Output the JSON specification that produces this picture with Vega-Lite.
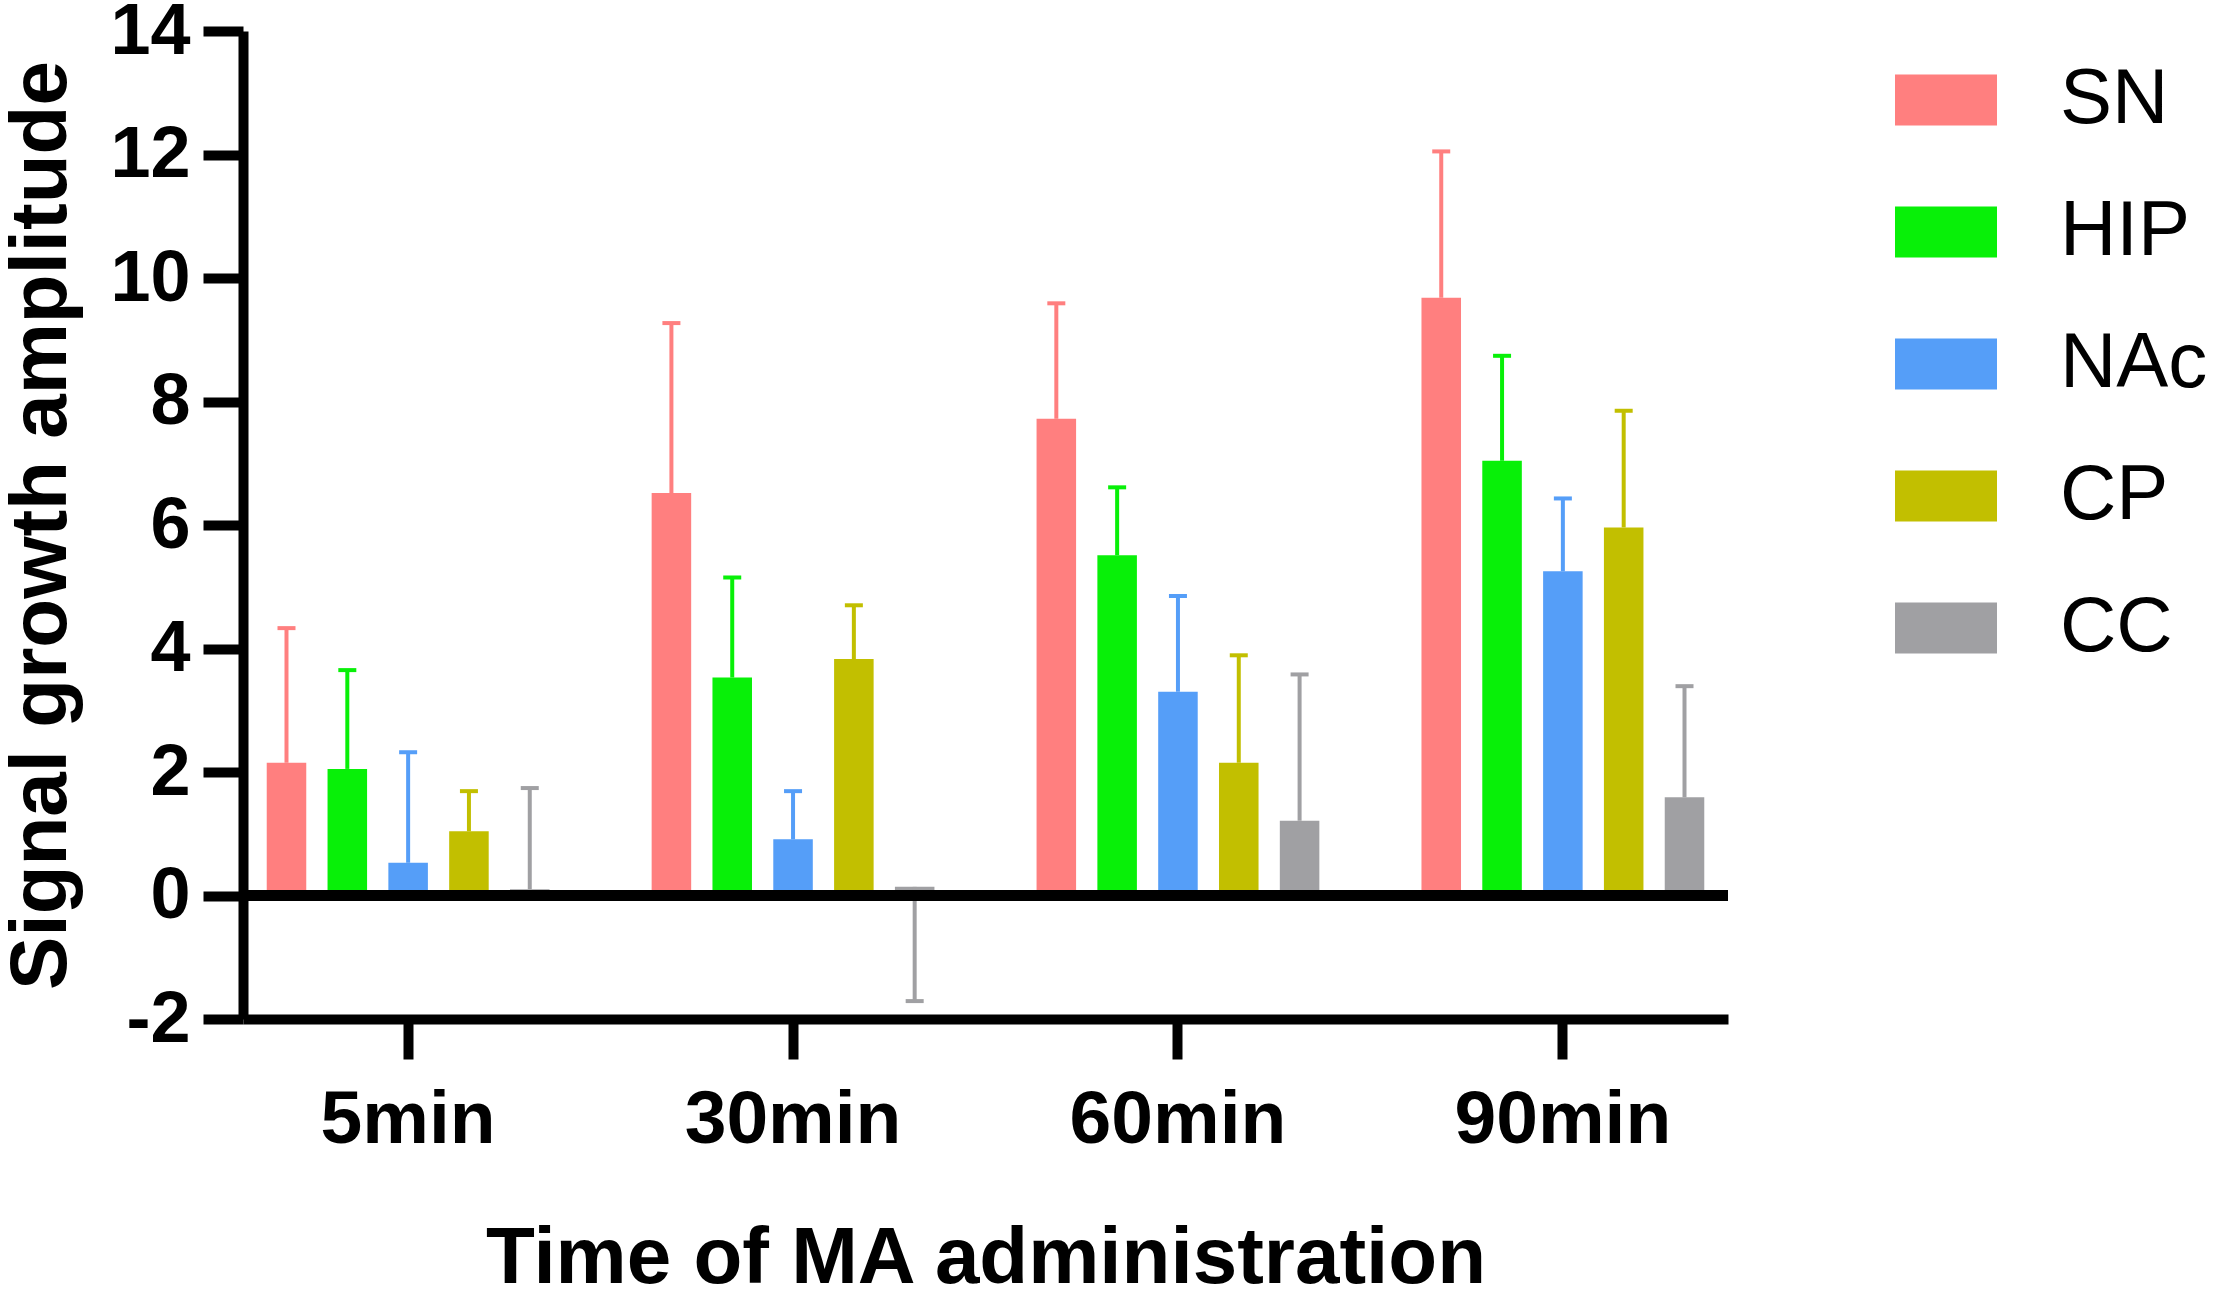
{
  "$schema": "https://vega.github.io/schema/vega-lite/v6.json",
  "width": 1485,
  "height": 988,
  "autosize": "none",
  "padding": {"left": 243, "top": 31, "right": 489, "bottom": 280},
  "background": "white",
  "config": {
    "view": {"stroke": null},
    "font": "Liberation Sans",
    "axis": {
      "grid": false,
      "domainColor": "black",
      "domainWidth": 10,
      "tickColor": "black",
      "tickWidth": 10,
      "tickSize": 40,
      "labelFont": "Liberation Sans",
      "labelFontWeight": "bold",
      "labelColor": "black",
      "labelLimit": 0,
      "titleFont": "Liberation Sans",
      "titleFontWeight": "bold",
      "titleColor": "black",
      "titleFontSize": 80
    }
  },
  "data": {
    "values": [
      {"time": "5min", "region": "SN", "mean": 2.15, "end": 4.33},
      {"time": "5min", "region": "HIP", "mean": 2.05, "end": 3.65},
      {"time": "5min", "region": "NAc", "mean": 0.53, "end": 2.32},
      {"time": "5min", "region": "CP", "mean": 1.04, "end": 1.69},
      {"time": "5min", "region": "CC", "mean": 0.1, "end": 1.74},
      {"time": "30min", "region": "SN", "mean": 6.52, "end": 9.27},
      {"time": "30min", "region": "HIP", "mean": 3.53, "end": 5.15},
      {"time": "30min", "region": "NAc", "mean": 0.91, "end": 1.69},
      {"time": "30min", "region": "CP", "mean": 3.83, "end": 4.7},
      {"time": "30min", "region": "CC", "mean": 0.14, "end": -1.71},
      {"time": "60min", "region": "SN", "mean": 7.72, "end": 9.59},
      {"time": "60min", "region": "HIP", "mean": 5.51, "end": 6.61},
      {"time": "60min", "region": "NAc", "mean": 3.3, "end": 4.85},
      {"time": "60min", "region": "CP", "mean": 2.15, "end": 3.89},
      {"time": "60min", "region": "CC", "mean": 1.21, "end": 3.58},
      {"time": "90min", "region": "SN", "mean": 9.68, "end": 12.05},
      {"time": "90min", "region": "HIP", "mean": 7.04, "end": 8.74},
      {"time": "90min", "region": "NAc", "mean": 5.25, "end": 6.43},
      {"time": "90min", "region": "CP", "mean": 5.96, "end": 7.85},
      {"time": "90min", "region": "CC", "mean": 1.59, "end": 3.39}
    ]
  },
  "encoding": {
    "x": {
      "field": "time",
      "type": "nominal",
      "sort": ["5min", "30min", "60min", "90min"],
      "scale": {"paddingInner": 0.21, "paddingOuter": 0.034},
      "axis": {
        "title": "Time of MA administration",
        "labelAngle": 0,
        "labelFontSize": 75,
        "labelPadding": 24,
        "titlePadding": 62
      }
    },
    "xOffset": {
      "field": "region",
      "type": "nominal",
      "sort": ["SN", "HIP", "NAc", "CP", "CC"],
      "scale": {"paddingInner": 0.35, "paddingOuter": 0.175}
    },
    "color": {
      "field": "region",
      "type": "nominal",
      "sort": ["SN", "HIP", "NAc", "CP", "CC"],
      "scale": {
        "domain": ["SN", "HIP", "NAc", "CP", "CC"],
        "range": ["#FF7F7F", "#08F008", "#559EF8", "#C2BF00", "#A0A0A3"]
      },
      "legend": {
        "title": null,
        "orient": "none",
        "legendX": 1652,
        "legendY": 18,
        "symbolType": "M-1,-0.5H1V0.5H-1Z",
        "symbolSize": 10404,
        "symbolStrokeWidth": 0,
        "symbolOpacity": 1,
        "labelFont": "Liberation Sans",
        "labelFontSize": 78,
        "labelColor": "black",
        "labelOffset": 63,
        "rowPadding": 42
      }
    }
  },
  "layer": [
    {
      "mark": {"type": "bar", "opacity": 1},
      "encoding": {
        "y": {
          "field": "mean",
          "type": "quantitative",
          "scale": {"domain": [-2, 14], "nice": false, "zero": false},
          "axis": {
            "title": "Signal growth amplitude",
            "values": [-2, 0, 2, 4, 6, 8, 10, 12, 14],
            "labelFontSize": 72,
            "labelPadding": 13,
            "titlePadding": 27,
            "labelExpr": "datum.value < 0 ? '-' + format(-datum.value, 'd') : format(datum.value, 'd')"
          }
        },
        "y2": {"datum": 0}
      }
    },
    {
      "mark": {"type": "rule", "strokeWidth": 4},
      "encoding": {
        "y": {"field": "mean", "type": "quantitative"},
        "y2": {"field": "end"}
      }
    },
    {
      "mark": {"type": "tick", "size": 18, "thickness": 4, "opacity": 1},
      "encoding": {
        "y": {"field": "end", "type": "quantitative"}
      }
    },
    {
      "mark": {"type": "rule", "strokeWidth": 10, "color": "black"},
      "encoding": {
        "y": {"datum": 0},
        "x": null,
        "xOffset": null,
        "color": null
      }
    }
  ]
}
